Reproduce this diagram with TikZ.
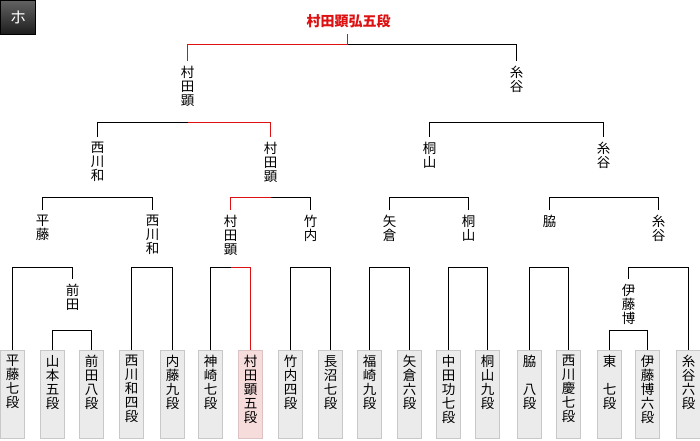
\documentclass[tikz,border=0pt]{standalone}
\usepackage{fontspec}
\newfontfamily\cjk{Noto Sans CJK JP}
\definecolor{wred}{HTML}{DD1111}
\definecolor{boxfill}{HTML}{EBEBEB}
\definecolor{boxline}{HTML}{C8C8C8}
\definecolor{pinkfill}{HTML}{F7DCDC}
\definecolor{pinkline}{HTML}{DCC2C2}
\definecolor{badgetop}{HTML}{626262}
\definecolor{badgebot}{HTML}{1C1C1C}
\begin{document}
\begin{tikzpicture}[x=1pt,y=-1pt,
  ln/.style={draw=black,line width=1pt},
  rl/.style={draw=wred,line width=1pt},
  nm/.style={font=\cjk\fontsize{13.5}{14}\selectfont,align=center,anchor=north,inner sep=0pt},
  pbox/.style={draw=boxline,fill=boxfill,line width=1pt,minimum width=24pt,minimum height=88pt,anchor=north,inner sep=0pt},
  wbox/.style={pbox,draw=pinkline,fill=pinkfill}]
\useasboundingbox (0,0) rectangle (700,440);
\fill[white] (0,0) rectangle (700,440);

% badge and title
\node[draw=black,line width=1pt,top color=badgetop,bottom color=badgebot,minimum width=35pt,minimum height=34pt,inner sep=0pt,text=white,font=\cjk\fontsize{16}{16}\selectfont] (badge) at (18,17.5) {ホ};
\node[font=\cjk\bfseries\fontsize{14}{14}\selectfont,text=wred,anchor=base,inner sep=0pt] (title) at (348.5,26) {村田顕弘五段};

% player boxes
\node[pbox] (b0) at (12.5,350) {};  \node[nm] (t0) at (12.5,355) {平\\藤\\七\\段};
\node[pbox] (b1) at (52.5,350) {};  \node[nm] (t1) at (52.5,355) {山\\本\\五\\段};
\node[pbox] (b2) at (91.5,350) {};  \node[nm] (t2) at (91.5,355) {前\\田\\八\\段};
\node[pbox] (b3) at (131.5,350) {}; \node[nm] (t3) at (131.5,355) {西\\川\\和\\四\\段};
\node[pbox] (b4) at (172.5,350) {}; \node[nm] (t4) at (172.5,355) {内\\藤\\九\\段};
\node[pbox] (b5) at (210.5,350) {}; \node[nm] (t5) at (210.5,355) {神\\崎\\七\\段};
\node[wbox] (b6) at (250.5,350) {}; \node[nm] (t6) at (250.5,355) {村\\田\\顕\\五\\段};
\node[pbox] (b7) at (290.5,350) {}; \node[nm] (t7) at (290.5,355) {竹\\内\\四\\段};
\node[pbox] (b8) at (330.5,350) {}; \node[nm] (t8) at (330.5,355) {長\\沼\\七\\段};
\node[pbox] (b9) at (369.5,350) {}; \node[nm] (t9) at (369.5,355) {福\\崎\\九\\段};
\node[pbox] (b10) at (409.5,350) {}; \node[nm] (t10) at (409.5,355) {矢\\倉\\六\\段};
\node[pbox] (b11) at (448.5,350) {}; \node[nm] (t11) at (448.5,355) {中\\田\\功\\七\\段};
\node[pbox] (b12) at (487.5,350) {}; \node[nm] (t12) at (487.5,355) {桐\\山\\九\\段};
\node[pbox] (b13) at (529.5,350) {}; \node[nm] (t13) at (529.5,355) {脇\\\phantom{八}\\八\\段};
\node[pbox] (b14) at (568.5,350) {}; \node[nm] (t14) at (568.5,355) {西\\川\\慶\\七\\段};
\node[pbox] (b15) at (609.5,350) {}; \node[nm] (t15) at (609.5,355) {東\\\phantom{七}\\七\\段};
\node[pbox] (b16) at (647.5,350) {}; \node[nm] (t16) at (647.5,355) {伊\\藤\\博\\六\\段};
\node[pbox] (b17) at (688.5,350) {}; \node[nm] (t17) at (688.5,355) {糸\\谷\\六\\段};

% winner labels
\node[nm] (n4a) at (72.5,284) {前\\田};
\node[nm] (n4b) at (628.5,284) {伊\\藤\\博};
\node[nm] (n3a) at (42.5,215) {平\\藤};
\node[nm] (n3b) at (152.5,215) {西\\川\\和};
\node[nm] (n3c) at (230.5,215) {村\\田\\顕};
\node[nm] (n3d) at (310.5,215) {竹\\内};
\node[nm] (n3e) at (389.5,215) {矢\\倉};
\node[nm] (n3f) at (468.5,215) {桐\\山};
\node[nm] (n3g) at (549.5,215) {脇};
\node[nm] (n3h) at (658.5,215) {糸\\谷};
\node[nm] (n2a) at (97.5,142) {西\\川\\和};
\node[nm] (n2b) at (270.5,142) {村\\田\\顕};
\node[nm] (n2c) at (429.5,142) {桐\\山};
\node[nm] (n2d) at (603.5,142) {糸\\谷};
\node[nm] (n1a) at (187.5,66) {村\\田\\顕};
\node[nm] (n1b) at (516.5,66) {糸\\谷};

% junctions
\coordinate (j4a) at (72.5,330.5);
\coordinate (j4b) at (628.5,330.5);
\coordinate (j3a) at (42.5,267.5);
\coordinate (j3b) at (152.5,267.5);
\coordinate (j3c) at (230.5,267.5);
\coordinate (j3d) at (310.5,267.5);
\coordinate (j3e) at (389.5,267.5);
\coordinate (j3f) at (468.5,267.5);
\coordinate (j3g) at (549.5,267.5);
\coordinate (j3h) at (658.5,267.5);
\coordinate (j2a) at (97.5,197.5);
\coordinate (j2b) at (270.5,197.5);
\coordinate (j2c) at (429.5,197.5);
\coordinate (j2d) at (603.5,197.5);
\coordinate (j1a) at (187.5,122.5);
\coordinate (j1b) at (516.5,122.5);
\coordinate (jF) at (347.5,44.5);

% brackets
\draw[ln] (b1.north) |- (j4a) -| (b2.north);
\draw[ln] (b15.north) |- (j4b) -| (b16.north);
\draw[ln] (b0.north) |- (j3a) -| ([yshift=5pt]n4a.north);
\draw[ln] (b3.north) |- (j3b) -| (b4.north);
\draw[ln] (b5.north) |- (j3c);
\draw[rl] (j3c) -| (b6.north);
\draw[ln] (b7.north) |- (j3d) -| (b8.north);
\draw[ln] (b9.north) |- (j3e) -| (b10.north);
\draw[ln] (b11.north) |- (j3f) -| (b12.north);
\draw[ln] (b13.north) |- (j3g) -| (b14.north);
\draw[ln] ([yshift=5pt]n4b.north) |- (j3h) -| (b17.north);
\draw[ln] ([yshift=5pt]n3a.north) |- (j2a) -| ([yshift=5pt]n3b.north);
\draw[rl] ([yshift=5pt]n3c.north) |- (j2b);
\draw[ln] (j2b) -| ([yshift=5pt]n3d.north);
\draw[ln] ([yshift=5pt]n3e.north) |- (j2c) -| ([yshift=5pt]n3f.north);
\draw[ln] ([yshift=5pt]n3g.north) |- (j2d) -| ([yshift=5pt]n3h.north);
\draw[ln] ([yshift=5pt]n2a.north) |- (j1a);
\draw[rl] (j1a) -| ([yshift=5pt]n2b.north);
\draw[ln] ([yshift=5pt]n2c.north) |- (j1b) -| ([yshift=5pt]n2d.north);
\draw[rl] ([yshift=5pt]n1a.north) |- (jF);
\draw[ln] (jF) -| ([yshift=5pt]n1b.north);
\draw[rl] (jF) -- ([yshift=-6pt]title.south -| jF);
\end{tikzpicture}
\end{document}
